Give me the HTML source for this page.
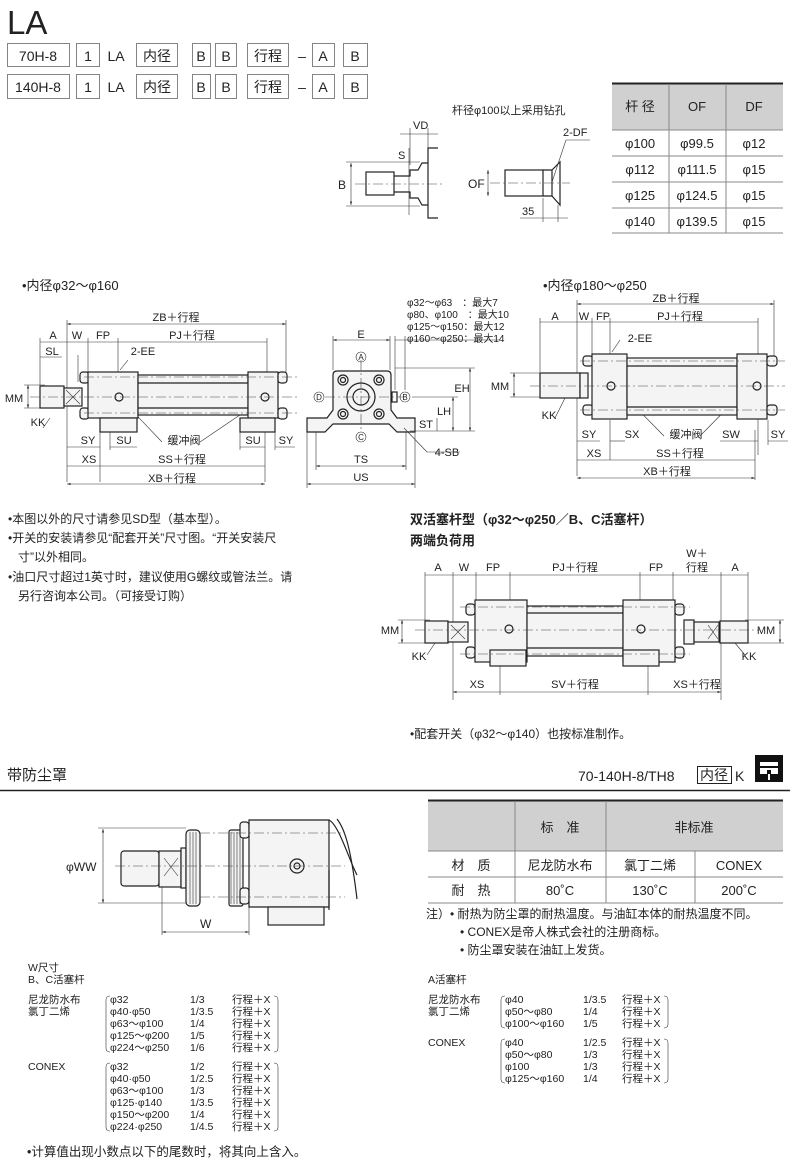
<!DOCTYPE html>
<html><head><meta charset="utf-8"><style>
html,body{margin:0;padding:0;background:#fff}
svg{display:block}
text{font-family:"Liberation Sans","Noto Sans CJK SC",sans-serif;fill:#222}
.s{stroke:#222;fill:none;stroke-width:1.2}
.t{stroke:#333;fill:none;stroke-width:.6}
.c{stroke:#444;fill:none;stroke-width:.6;stroke-dasharray:10 3 2 3}
.f{fill:#f4f4f4;stroke:#222;stroke-width:1.2}
.g{fill:#d0d0d0}
</style></head><body>
<svg width="790" height="1160" viewBox="0 0 790 1160" xmlns="http://www.w3.org/2000/svg">
<defs>
<marker id="a" viewBox="0 0 6 6" refX="6" refY="3" markerWidth="6" markerHeight="6" orient="auto-start-reverse"><path d="M0,1 L6,3 L0,5z" fill="#333"/></marker>
</defs>
<!-- title -->
<text x="7" y="34" font-size="33">LA</text>
<g class="t" stroke-width="1">
<rect x="7.5" y="43.5" width="62" height="23"/><rect x="76.5" y="43.5" width="23" height="23"/><rect x="136.5" y="43.5" width="41" height="23"/><rect x="192.5" y="43.5" width="18" height="23"/><rect x="215.5" y="43.5" width="21" height="23"/><rect x="247.5" y="43.5" width="41" height="23"/><rect x="312.5" y="43.5" width="22" height="23"/><rect x="343.5" y="43.5" width="24" height="23"/>
<rect x="7.5" y="74.5" width="62" height="24"/><rect x="76.5" y="74.5" width="23" height="24"/><rect x="136.5" y="74.5" width="41" height="24"/><rect x="192.5" y="74.5" width="18" height="24"/><rect x="215.5" y="74.5" width="21" height="24"/><rect x="247.5" y="74.5" width="41" height="24"/><rect x="312.5" y="74.5" width="22" height="24"/><rect x="343.5" y="74.5" width="24" height="24"/>
</g>
<g font-size="14" text-anchor="middle">
<text x="38" y="61">70H-8</text><text x="88" y="61">1</text><text x="116" y="61">LA</text><text x="157" y="61">内径</text><text x="201" y="61">B</text><text x="226" y="61">B</text><text x="268" y="61">行程</text><text x="302" y="61">–</text><text x="323" y="61">A</text><text x="355" y="61">B</text>
<text x="38" y="92">140H-8</text><text x="88" y="92">1</text><text x="116" y="92">LA</text><text x="157" y="92">内径</text><text x="201" y="92">B</text><text x="226" y="92">B</text><text x="268" y="92">行程</text><text x="302" y="92">–</text><text x="323" y="92">A</text><text x="355" y="92">B</text>
</g>

<!-- top right table -->
<rect x="612" y="84" width="171" height="46" class="g"/>
<line x1="612" y1="83.5" x2="783" y2="83.5" stroke="#222" stroke-width="2"/>
<g stroke="#888" stroke-width="1">
<line x1="612" y1="130" x2="783" y2="130"/><line x1="612" y1="156" x2="783" y2="156"/><line x1="612" y1="182" x2="783" y2="182"/><line x1="612" y1="208" x2="783" y2="208"/><line x1="612" y1="233" x2="783" y2="233"/>
<line x1="669" y1="84" x2="669" y2="233"/><line x1="726" y1="84" x2="726" y2="233"/>
</g>
<g font-size="13" text-anchor="middle">
<text x="640" y="111">杆 径</text><text x="697" y="111">OF</text><text x="754" y="111">DF</text>
<text x="640" y="148">φ100</text><text x="697" y="148">φ99.5</text><text x="754" y="148">φ12</text>
<text x="640" y="174">φ112</text><text x="697" y="174">φ111.5</text><text x="754" y="174">φ15</text>
<text x="640" y="200">φ125</text><text x="697" y="200">φ124.5</text><text x="754" y="200">φ15</text>
<text x="640" y="226">φ140</text><text x="697" y="226">φ139.5</text><text x="754" y="226">φ15</text>
</g>

<!-- top middle small drawings -->
<text x="452" y="114" font-size="11">杆径φ100以上采用钻孔</text>
<g>
<rect x="366" y="172" width="28" height="23" class="s"/>
<path class="s" d="M394,176 h16 v-6 h8 l4,-7 h6 v-15 h10 M394,192 h16 v6 h8 l4,7 h6 v13 h10 M428,148 v70"/>
<line class="c" x1="355" y1="184" x2="445" y2="184"/>
<line class="t" x1="351" y1="163" x2="351" y2="205" marker-start="url(#a)" marker-end="url(#a)"/>
<line class="t" x1="346" y1="162" x2="420" y2="162"/><line class="t" x1="346" y1="206" x2="420" y2="206"/>
<text x="338" y="189" font-size="12">B</text>
<line class="t" x1="410" y1="128" x2="410" y2="165"/><line class="t" x1="428" y1="128" x2="428" y2="148"/>
<line class="t" x1="400" y1="134" x2="438" y2="134"/>
<text x="413" y="129" font-size="11">VD</text>
<text x="398" y="159" font-size="11">S</text>
<line class="t" x1="409" y1="148" x2="409" y2="215"/>
<rect x="505" y="170" width="38" height="26" class="s"/>
<path class="s" d="M543,170 h9 v26 h-9 M552,170 l8,-8 v43 l-8,-9"/>
<line class="c" x1="490" y1="183" x2="570" y2="183"/>
<line class="t" x1="488" y1="170" x2="488" y2="196" marker-start="url(#a)" marker-end="url(#a)"/>
<text x="468" y="188" font-size="12">OF</text>
<text x="563" y="136" font-size="11">2-DF</text>
<line class="t" x1="552" y1="182" x2="566" y2="140"/><line class="t" x1="566" y1="140" x2="590" y2="140"/>
<line class="t" x1="543" y1="198" x2="543" y2="222"/><line class="t" x1="558" y1="205" x2="558" y2="222"/>
<line class="t" x1="520" y1="218" x2="568" y2="218"/>
<text x="522" y="215" font-size="11">35</text>
</g>

<!-- left cylinder -->
<text x="22" y="290" font-size="13">•内径φ32～φ160</text>
<g class="t">
<line x1="67" y1="320" x2="67" y2="482"/><line x1="286" y1="320" x2="286" y2="380"/>
<line x1="67" y1="324" x2="286" y2="324" marker-start="url(#a)" marker-end="url(#a)"/>
<line x1="40" y1="338" x2="40" y2="385"/><line x1="88" y1="338" x2="88" y2="372"/><line x1="118" y1="338" x2="118" y2="372"/><line x1="267" y1="338" x2="267" y2="372"/>
<line x1="40" y1="342" x2="267" y2="342"/>
<line x1="40" y1="357" x2="62" y2="357"/><line x1="78" y1="355" x2="78" y2="382"/>
<line x1="28" y1="385" x2="28" y2="408" marker-start="url(#a)" marker-end="url(#a)"/>
<line x1="24" y1="385" x2="45" y2="385"/><line x1="24" y1="408" x2="45" y2="408"/>
<line x1="100" y1="418" x2="100" y2="482"/><line x1="110" y1="430" x2="110" y2="450"/><line x1="240" y1="430" x2="240" y2="450"/><line x1="265" y1="430" x2="265" y2="482"/><line x1="275" y1="430" x2="275" y2="450"/>
<line x1="67" y1="447" x2="100" y2="447"/><line x1="110" y1="447" x2="137" y2="447"/><line x1="240" y1="447" x2="265" y2="447"/><line x1="275" y1="447" x2="295" y2="447"/>
<line x1="67" y1="466" x2="265" y2="466"/>
<line x1="67" y1="484" x2="265" y2="484" marker-start="url(#a)" marker-end="url(#a)"/>
<line x1="50" y1="418" x2="43" y2="428"/>
<line x1="122" y1="400" x2="162" y2="442"/><line x1="200" y1="442" x2="262" y2="400"/>
<line x1="120" y1="370" x2="128" y2="360"/>
</g>
<g font-size="11" text-anchor="middle">
<text x="176" y="321">ZB＋行程</text><text x="53" y="339">A</text><text x="77" y="339">W</text><text x="103" y="339">FP</text><text x="192" y="339">PJ＋行程</text>
<text x="52" y="355">SL</text><text x="143" y="355">2-EE</text><text x="14" y="402">MM</text><text x="38" y="426">KK</text>
<text x="88" y="444">SY</text><text x="124" y="444">SU</text><text x="184" y="444">缓冲阀</text><text x="253" y="444">SU</text><text x="286" y="444">SY</text>
<text x="89" y="463">XS</text><text x="182" y="463">SS＋行程</text><text x="172" y="482">XB＋行程</text>
</g>
<g>
<rect x="40" y="386" width="24" height="22" class="f"/>
<rect x="64" y="388" width="18" height="18" class="f"/><path class="t" d="M66,390 l14,14 M80,390 l-14,14"/>
<rect x="80" y="372" width="9" height="11" rx="3" class="f"/><rect x="80" y="408" width="9" height="11" rx="3" class="f"/>
<rect x="88" y="372" width="50" height="46" class="f"/>
<rect x="138" y="375" width="110" height="40" class="f"/>
<line class="s" x1="138" y1="383" x2="248" y2="383"/><line class="s" x1="138" y1="408" x2="248" y2="408"/>
<rect x="248" y="372" width="30" height="46" class="f"/>
<rect x="278" y="372" width="9" height="11" rx="3" class="f"/><rect x="278" y="408" width="9" height="11" rx="3" class="f"/>
<rect x="100" y="418" width="37" height="14" class="f"/><rect x="240" y="418" width="35" height="14" class="f"/>
<circle cx="119" cy="397" r="4" class="s"/><circle cx="265" cy="397" r="4" class="s"/>
<line class="c" x1="30" y1="397" x2="298" y2="397"/><line class="c" x1="84" y1="377" x2="298" y2="377"/><line class="c" x1="84" y1="413" x2="298" y2="413"/>
</g>

<!-- front view -->
<g>
<path class="f" d="M307,418 h20 l6,-8 v-35 q0,-4 4,-4 h50 q4,0 4,4 v35 l6,8 h18 v14 h-18 l-8,-8 h-56 l-8,8 h-18z"/>
<circle cx="361" cy="397" r="14" class="s"/><circle cx="361" cy="397" r="8" class="s"/>
<circle cx="343" cy="380" r="5" class="s"/><circle cx="379" cy="380" r="5" class="s"/><circle cx="343" cy="414" r="5" class="s"/><circle cx="379" cy="414" r="5" class="s"/>
<circle cx="343" cy="380" r="2.5" class="s"/><circle cx="379" cy="380" r="2.5" class="s"/><circle cx="343" cy="414" r="2.5" class="s"/><circle cx="379" cy="414" r="2.5" class="s"/>
<rect x="392" y="392" width="5" height="10" class="s"/>
<line class="c" x1="325" y1="397" x2="405" y2="397"/><line class="c" x1="361" y1="360" x2="361" y2="432"/>
<g class="t">
<line x1="333" y1="340" x2="390" y2="340" marker-start="url(#a)" marker-end="url(#a)"/><line x1="333" y1="336" x2="333" y2="370"/><line x1="390" y1="336" x2="390" y2="370"/>
<line x1="395" y1="340" x2="500" y2="340"/><line x1="395" y1="336" x2="395" y2="390"/><line x1="405" y1="336" x2="405" y2="390"/>
<line x1="470" y1="368" x2="470" y2="431" marker-start="url(#a)" marker-end="url(#a)"/><line x1="395" y1="368" x2="475" y2="368"/><line x1="410" y1="431" x2="475" y2="431"/>
<line x1="453" y1="397" x2="453" y2="431" marker-start="url(#a)" marker-end="url(#a)"/><line x1="412" y1="397" x2="458" y2="397"/>
<line x1="437" y1="418" x2="437" y2="431"/>
<line x1="316" y1="432" x2="316" y2="470"/><line x1="406" y1="432" x2="406" y2="470"/><line x1="307" y1="432" x2="307" y2="488"/><line x1="415" y1="432" x2="415" y2="488"/>
<line x1="316" y1="466" x2="406" y2="466" marker-start="url(#a)" marker-end="url(#a)"/>
<line x1="307" y1="484" x2="415" y2="484" marker-start="url(#a)" marker-end="url(#a)"/>
<line x1="404" y1="428" x2="427" y2="452"/><line x1="427" y1="452" x2="460" y2="452"/>
</g>
<circle cx="361" cy="357" r="5" class="t"/><circle cx="319" cy="397" r="5" class="t"/><circle cx="405" cy="397" r="5" class="t"/><circle cx="361" cy="437" r="5" class="t"/>
<g font-size="8" text-anchor="middle"><text x="361" y="360">A</text><text x="319" y="400">D</text><text x="405" y="400">B</text><text x="361" y="440">C</text></g>
<g font-size="11" text-anchor="middle"><text x="361" y="338">E</text><text x="462" y="392">EH</text><text x="444" y="415">LH</text><text x="426" y="428">ST</text><text x="447" y="456">4-SB</text><text x="361" y="463">TS</text><text x="361" y="481">US</text></g>
<g font-size="10"><text x="407" y="306">φ32～φ63　：最大7</text><text x="407" y="318">φ80、φ100　：最大10</text><text x="407" y="330">φ125～φ150：最大12</text><text x="407" y="342">φ160～φ250：最大14</text></g>
</g>

<!-- right cylinder -->
<text x="543" y="290" font-size="13">•内径φ180～φ250</text>
<g class="t">
<line x1="577" y1="304" x2="774" y2="304" marker-start="url(#a)" marker-end="url(#a)"/><line x1="577" y1="300" x2="577" y2="476"/><line x1="774" y1="300" x2="774" y2="360"/>
<line x1="540" y1="322" x2="758" y2="322"/><line x1="540" y1="318" x2="540" y2="372"/><line x1="592" y1="318" x2="592" y2="355"/><line x1="610" y1="318" x2="610" y2="355"/><line x1="758" y1="318" x2="758" y2="455"/>
<line x1="514" y1="373" x2="514" y2="397" marker-start="url(#a)" marker-end="url(#a)"/><line x1="510" y1="373" x2="545" y2="373"/><line x1="510" y1="397" x2="545" y2="397"/>
<line x1="577" y1="441" x2="600" y2="441"/><line x1="610" y1="441" x2="625" y2="441"/><line x1="720" y1="441" x2="758" y2="441"/><line x1="768" y1="441" x2="788" y2="441"/>
<line x1="610" y1="420" x2="610" y2="460"/><line x1="768" y1="420" x2="768" y2="445"/>
<line x1="577" y1="460" x2="755" y2="460"/>
<line x1="577" y1="478" x2="755" y2="478" marker-start="url(#a)" marker-end="url(#a)"/><line x1="755" y1="430" x2="755" y2="480"/>
<line x1="614" y1="385" x2="664" y2="436"/><line x1="700" y1="436" x2="750" y2="385"/>
<line x1="565" y1="398" x2="555" y2="418"/>
<line x1="612" y1="352" x2="620" y2="340"/>
</g>
<g>
<rect x="540" y="373" width="40" height="25" class="f"/><rect x="580" y="373" width="8" height="25" class="f"/>
<rect x="583" y="356" width="10" height="10" rx="3" class="f"/><rect x="583" y="405" width="10" height="10" rx="3" class="f"/>
<rect x="592" y="354" width="35" height="65" class="f"/>
<rect x="627" y="358" width="110" height="57" class="f"/>
<line class="s" x1="627" y1="366" x2="737" y2="366"/><line class="s" x1="627" y1="407" x2="737" y2="407"/>
<rect x="737" y="354" width="30" height="65" class="f"/>
<rect x="767" y="356" width="10" height="10" rx="3" class="f"/><rect x="767" y="405" width="10" height="10" rx="3" class="f"/>
<circle cx="611" cy="386" r="4" class="s"/><circle cx="757" cy="386" r="4" class="s"/>
<line class="c" x1="530" y1="386" x2="785" y2="386"/><line class="c" x1="580" y1="361" x2="785" y2="361"/><line class="c" x1="580" y1="410" x2="785" y2="410"/>
</g>
<g font-size="11" text-anchor="middle">
<text x="676" y="302">ZB＋行程</text><text x="555" y="320">A</text><text x="584" y="320">W</text><text x="603" y="320">FP</text><text x="680" y="320">PJ＋行程</text>
<text x="640" y="342">2-EE</text><text x="500" y="390">MM</text><text x="549" y="419">KK</text>
<text x="589" y="438">SY</text><text x="632" y="438">SX</text><text x="686" y="438">缓冲阀</text><text x="731" y="438">SW</text><text x="778" y="438">SY</text>
<text x="594" y="457">XS</text><text x="680" y="457">SS＋行程</text><text x="667" y="475">XB＋行程</text>
</g>

<!-- notes left -->
<g font-size="12">
<text x="8" y="523">•本图以外的尺寸请参见SD型（基本型）。</text>
<text x="8" y="542">•开关的安装请参见“配套开关”尺寸图。“开关安装尺</text>
<text x="18" y="561">寸”以外相同。</text>
<text x="8" y="581">•油口尺寸超过1英寸时，建议使用G螺纹或管法兰。请</text>
<text x="18" y="600">另行咨询本公司。（可接受订购）</text>
</g>
<text x="410" y="524" font-size="13" font-weight="bold">双活塞杆型（φ32～φ250／B、C活塞杆）</text>
<text x="410" y="545" font-size="13" font-weight="bold">两端负荷用</text>

<!-- double rod -->
<g class="t">
<line x1="425" y1="572" x2="425" y2="640"/><line x1="453" y1="572" x2="453" y2="700"/><line x1="476" y1="572" x2="476" y2="600"/><line x1="510" y1="572" x2="510" y2="600"/><line x1="640" y1="572" x2="640" y2="600"/><line x1="673" y1="572" x2="673" y2="600"/><line x1="721" y1="572" x2="721" y2="700"/><line x1="748" y1="572" x2="748" y2="640"/>
<line x1="425" y1="575" x2="748" y2="575"/>
<line x1="500" y1="660" x2="500" y2="695"/><line x1="648" y1="660" x2="648" y2="695"/>
<line x1="453" y1="692" x2="721" y2="692" marker-start="url(#a)" marker-end="url(#a)"/>
<line x1="402" y1="620" x2="402" y2="643" marker-start="url(#a)" marker-end="url(#a)"/><line x1="398" y1="620" x2="430" y2="620"/><line x1="398" y1="643" x2="430" y2="643"/>
<line x1="780" y1="620" x2="780" y2="643" marker-start="url(#a)" marker-end="url(#a)"/><line x1="745" y1="620" x2="784" y2="620"/><line x1="745" y1="643" x2="784" y2="643"/>
<line x1="435" y1="643" x2="427" y2="655"/><line x1="735" y1="643" x2="745" y2="655"/>
</g>
<g>
<rect x="425" y="621" width="23" height="22" class="f"/><rect x="448" y="622" width="20" height="20" class="f"/><path class="t" d="M451,625 l14,14 M465,625 l-14,14"/>
<rect x="466" y="604" width="9" height="11" rx="3" class="f"/><rect x="466" y="647" width="9" height="11" rx="3" class="f"/>
<rect x="475" y="600" width="52" height="62" class="f"/>
<rect x="527" y="606" width="96" height="50" class="f"/>
<line class="s" x1="527" y1="613" x2="623" y2="613"/><line class="s" x1="527" y1="648" x2="623" y2="648"/>
<rect x="623" y="600" width="52" height="62" class="f"/>
<rect x="675" y="604" width="9" height="11" rx="3" class="f"/><rect x="675" y="647" width="9" height="11" rx="3" class="f"/>
<rect x="490" y="650" width="36" height="16" class="f"/><rect x="623" y="650" width="36" height="16" class="f"/>
<rect x="684" y="620" width="10" height="24" class="f"/><rect x="694" y="622" width="25" height="20" class="f"/><path class="t" d="M708,625 l10,14 M718,625 l-10,14"/>
<rect x="720" y="621" width="28" height="22" class="f"/>
<circle cx="509" cy="629" r="4" class="s"/><circle cx="641" cy="629" r="4" class="s"/>
<line class="c" x1="415" y1="630" x2="760" y2="630"/><line class="c" x1="460" y1="607" x2="690" y2="607"/><line class="c" x1="460" y1="654" x2="690" y2="654"/>
</g>
<g font-size="11" text-anchor="middle">
<text x="438" y="571">A</text><text x="464" y="571">W</text><text x="493" y="571">FP</text><text x="575" y="571">PJ＋行程</text><text x="656" y="571">FP</text><text x="697" y="557">W＋</text><text x="697" y="571">行程</text><text x="735" y="571">A</text>
<text x="390" y="634">MM</text><text x="766" y="634">MM</text><text x="419" y="660">KK</text><text x="749" y="660">KK</text>
<text x="477" y="688">XS</text><text x="575" y="688">SV＋行程</text><text x="697" y="688">XS＋行程</text>
</g>
<text x="410" y="738" font-size="12">•配套开关（φ32～φ140）也按标准制作。</text>

<!-- section header -->
<text x="7" y="780" font-size="15">带防尘罩</text>
<text x="578" y="781" font-size="14">70-140H-8/TH8</text>
<rect x="697.5" y="766.5" width="34" height="17" fill="none" stroke="#222" stroke-width="1"/>
<text x="714" y="780" font-size="14" text-anchor="middle">内径</text>
<text x="735" y="781" font-size="14">K</text>
<rect x="755" y="755" width="28" height="27" fill="#111"/>
<rect x="760" y="762" width="18" height="4" fill="#fff"/><rect x="760" y="768" width="18" height="6" fill="#fff"/><rect x="767" y="770" width="4" height="8" fill="#111"/><rect x="768" y="774" width="2" height="6" fill="#fff"/>
<line x1="0" y1="790.5" x2="790" y2="790.5" stroke="#222" stroke-width="1.5"/>

<!-- dust cover drawing -->
<g>
<rect x="121" y="851" width="38" height="35" rx="3" class="f"/>
<rect x="159" y="851" width="22" height="36" class="f"/><path class="t" d="M164,858 l14,18 M178,858 l-14,18"/>
<rect x="181" y="848" width="5" height="40" class="f"/>
<rect x="186" y="830" width="14" height="76" rx="4" class="f"/>
<path class="t" d="M190,832 v72 M193,832 v72 M196,832 v72"/>
<rect x="229" y="830" width="14" height="76" rx="2" class="f"/>
<path class="t" d="M231,832 v72 M234,832 v72 M237,832 v72 M240,832 v72"/>
<rect x="240" y="822" width="9" height="16" rx="3" class="f"/><rect x="240" y="888" width="9" height="16" rx="3" class="f"/>
<path class="f" d="M249,820 h80 v87 h-80z"/>
<path class="s" d="M329,820 c10,5 20,40 28,55 M329,870 v40"/>
<path class="s" d="M337,819 c8,10 14,30 20,80"/>
<rect x="268" y="907" width="56" height="18" class="f"/>
<circle cx="297" cy="866" r="7" class="s"/><circle cx="297" cy="866" r="3" class="s"/>
<line class="c" x1="115" y1="866" x2="345" y2="866"/><line class="c" x1="200" y1="833" x2="345" y2="833"/><line class="c" x1="200" y1="897" x2="345" y2="897"/>
<g class="t">
<line x1="103" y1="829" x2="103" y2="903" marker-start="url(#a)" marker-end="url(#a)"/><line x1="98" y1="828" x2="186" y2="828"/><line x1="98" y1="903" x2="186" y2="903"/>
<line x1="162" y1="887" x2="162" y2="935"/><line x1="249" y1="907" x2="249" y2="935"/>
<line x1="162" y1="932" x2="249" y2="932" marker-start="url(#a)" marker-end="url(#a)"/>
</g>
<text x="66" y="871" font-size="12">φWW</text>
<text x="200" y="928" font-size="12">W</text>
</g>

<!-- bottom table -->
<rect x="428" y="801" width="355" height="50" class="g"/>
<line x1="428" y1="800.5" x2="783" y2="800.5" stroke="#222" stroke-width="2"/>
<g stroke="#888" stroke-width="1">
<line x1="428" y1="851" x2="783" y2="851"/><line x1="428" y1="877" x2="783" y2="877"/><line x1="428" y1="903" x2="783" y2="903"/>
<line x1="515" y1="801" x2="515" y2="903"/><line x1="606" y1="801" x2="606" y2="903"/><line x1="695" y1="851" x2="695" y2="903"/>
</g>
<g font-size="13" text-anchor="middle">
<text x="560" y="832">标　准</text><text x="694" y="832">非标准</text>
<text x="471" y="870">材　质</text><text x="560" y="870">尼龙防水布</text><text x="650" y="870">氯丁二烯</text><text x="739" y="870">CONEX</text>
<text x="471" y="895">耐　热</text><text x="560" y="895">80˚C</text><text x="650" y="895">130˚C</text><text x="739" y="895">200˚C</text>
</g>
<g font-size="12">
<text x="426" y="918">注）• 耐热为防尘罩的耐热温度。与油缸本体的耐热温度不同。</text>
<text x="460" y="936">• CONEX是帝人株式会社的注册商标。</text>
<text x="460" y="954">• 防尘罩安装在油缸上发货。</text>
</g>

<!-- W lists -->
<g font-size="10.5">
<text x="28" y="971">W尺寸</text><text x="28" y="983">B、C活塞杆</text>
<text x="28" y="1003">尼龙防水布</text><text x="28" y="1015">氯丁二烯</text>
<text x="110" y="1003">φ32</text><text x="190" y="1003">1/3</text><text x="232" y="1003">行程＋X</text>
<text x="110" y="1015">φ40·φ50</text><text x="190" y="1015">1/3.5</text><text x="232" y="1015">行程＋X</text>
<text x="110" y="1027">φ63～φ100</text><text x="190" y="1027">1/4</text><text x="232" y="1027">行程＋X</text>
<text x="110" y="1039">φ125～φ200</text><text x="190" y="1039">1/5</text><text x="232" y="1039">行程＋X</text>
<text x="110" y="1051">φ224～φ250</text><text x="190" y="1051">1/6</text><text x="232" y="1051">行程＋X</text>
<text x="28" y="1070">CONEX</text>
<text x="110" y="1070">φ32</text><text x="190" y="1070">1/2</text><text x="232" y="1070">行程＋X</text>
<text x="110" y="1082">φ40·φ50</text><text x="190" y="1082">1/2.5</text><text x="232" y="1082">行程＋X</text>
<text x="110" y="1094">φ63～φ100</text><text x="190" y="1094">1/3</text><text x="232" y="1094">行程＋X</text>
<text x="110" y="1106">φ125·φ140</text><text x="190" y="1106">1/3.5</text><text x="232" y="1106">行程＋X</text>
<text x="110" y="1118">φ150～φ200</text><text x="190" y="1118">1/4</text><text x="232" y="1118">行程＋X</text>
<text x="110" y="1130">φ224·φ250</text><text x="190" y="1130">1/4.5</text><text x="232" y="1130">行程＋X</text>
<text x="428" y="983">A活塞杆</text>
<text x="428" y="1003">尼龙防水布</text><text x="428" y="1015">氯丁二烯</text>
<text x="505" y="1003">φ40</text><text x="583" y="1003">1/3.5</text><text x="622" y="1003">行程＋X</text>
<text x="505" y="1015">φ50～φ80</text><text x="583" y="1015">1/4</text><text x="622" y="1015">行程＋X</text>
<text x="505" y="1027">φ100～φ160</text><text x="583" y="1027">1/5</text><text x="622" y="1027">行程＋X</text>
<text x="428" y="1046">CONEX</text>
<text x="505" y="1046">φ40</text><text x="583" y="1046">1/2.5</text><text x="622" y="1046">行程＋X</text>
<text x="505" y="1058">φ50～φ80</text><text x="583" y="1058">1/3</text><text x="622" y="1058">行程＋X</text>
<text x="505" y="1070">φ100</text><text x="583" y="1070">1/3</text><text x="622" y="1070">行程＋X</text>
<text x="505" y="1082">φ125～φ160</text><text x="583" y="1082">1/4</text><text x="622" y="1082">行程＋X</text>
</g>
<g class="t">
<path d="M110,996 q-4,0 -4,4 v48 q0,4 4,4"/><path d="M274,996 q4,0 4,4 v48 q0,4 -4,4"/>
<path d="M110,1063 q-4,0 -4,4 v60 q0,4 4,4"/><path d="M274,1063 q4,0 4,4 v60 q0,4 -4,4"/>
<path d="M505,996 q-4,0 -4,4 v24 q0,4 4,4"/><path d="M664,996 q4,0 4,4 v24 q0,4 -4,4"/>
<path d="M505,1039 q-4,0 -4,4 v36 q0,4 4,4"/><path d="M664,1039 q4,0 4,4 v36 q0,4 -4,4"/>
</g>
<text x="27" y="1156" font-size="12.5">•计算值出现小数点以下的尾数时，将其向上含入。</text>
</svg>
</body></html>
